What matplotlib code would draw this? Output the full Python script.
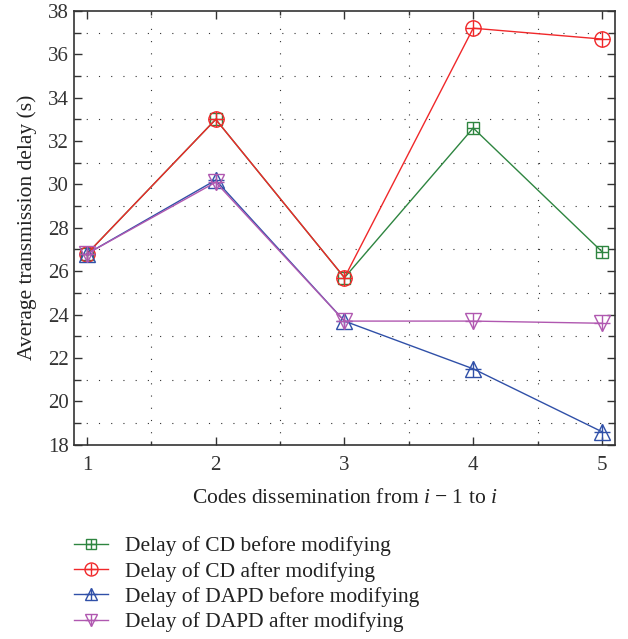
import matplotlib.pyplot as plt
from matplotlib.ticker import MultipleLocator
from matplotlib.lines import Line2D

plt.rcParams['font.family'] = ['Liberation Serif', 'DejaVu Serif']
plt.rcParams['mathtext.fontset'] = 'custom'
plt.rcParams['mathtext.rm'] = 'Liberation Serif'
plt.rcParams['mathtext.it'] = 'Liberation Serif:italic'

# dados
x = [1, 2, 3, 4, 5]
cd_before = [26.8, 33.0, 25.7, 32.6, 26.9]
cd_after = [26.8, 33.0, 25.7, 37.2, 36.7]
dapd_before = [26.8, 30.2, 23.7, 21.5, 18.6]
dapd_after = [26.8, 30.1, 23.7, 23.7, 23.6]

labels = ['Delay of CD before modifying', 'Delay of CD after modifying',
          'Delay of DAPD before modifying', 'Delay of DAPD after modifying']
series = [cd_before, cd_after, dapd_before, dapd_after]
colors = ['#2e8540', '#f0282a', '#3050a8', '#b058b0']
markers = ['s', 'o', '^', 'v']
sizes = [9, 11, 11, 11]

fig = plt.figure(figsize=(6.28, 6.39), dpi=100)
ax = fig.add_axes([0.118, 0.304, 0.861, 0.679])

for y, c, m, s, lab in zip(series, colors, markers, sizes, labels):
    ax.plot(x, y, color=c, lw=1.0, marker=m, ms=s, mfc='none', mec=c, mew=1.0, label=lab)
    ax.plot(x, y, ls='none', marker='+', ms=s, mec=c, mew=1.0)

ax.set_xlim(0.9, 5.1)
ax.set_ylim(18, 38)
ax.xaxis.set_major_locator(MultipleLocator(1))
ax.xaxis.set_minor_locator(MultipleLocator(0.5))
ax.yaxis.set_major_locator(MultipleLocator(2))
ax.yaxis.set_minor_locator(MultipleLocator(1))
ax.tick_params(which='both', direction='in', top=True, right=True, labelsize=15, colors='#333333')
ax.tick_params(which='major', length=6, width=1.0)
ax.tick_params(which='minor', length=3, width=1.0)
ax.tick_params(axis='y', which='minor', length=5)
ax.tick_params(axis='x', pad=8)
ax.grid(True, which='minor', color='#333333', lw=0.8, ls=(0, (1, 10)))
for sp in ax.spines.values():
    sp.set_color('#333333')
    sp.set_linewidth(1.2)

ax.set_xlabel(r'Codes dissemination from $i$ $-$ 1 to $i$', fontsize=15.5, color='#222222', labelpad=10)
ax.set_ylabel('Average transmission delay (s)', fontsize=15.5, color='#222222', labelpad=8)

# legenda abaixo do gráfico, com o "+" dentro de cada marcador
leg_handles = []
for c, m, s in zip(colors, markers, sizes):
    leg_handles.append((Line2D([], [], color=c, lw=1.0, marker=m, ms=s * 0.85, mfc='none', mec=c),
                        Line2D([], [], ls='none', marker='+', ms=s * 0.85, mec=c)))
fig.legend(leg_handles, labels, loc='upper left', bbox_to_anchor=(0.100, 0.178),
           frameon=False, fontsize=15.5, handlelength=1.6, handletextpad=0.8,
           labelspacing=0.25, borderpad=0, labelcolor='#222222')

fig.savefig('out.png', dpi=100)
